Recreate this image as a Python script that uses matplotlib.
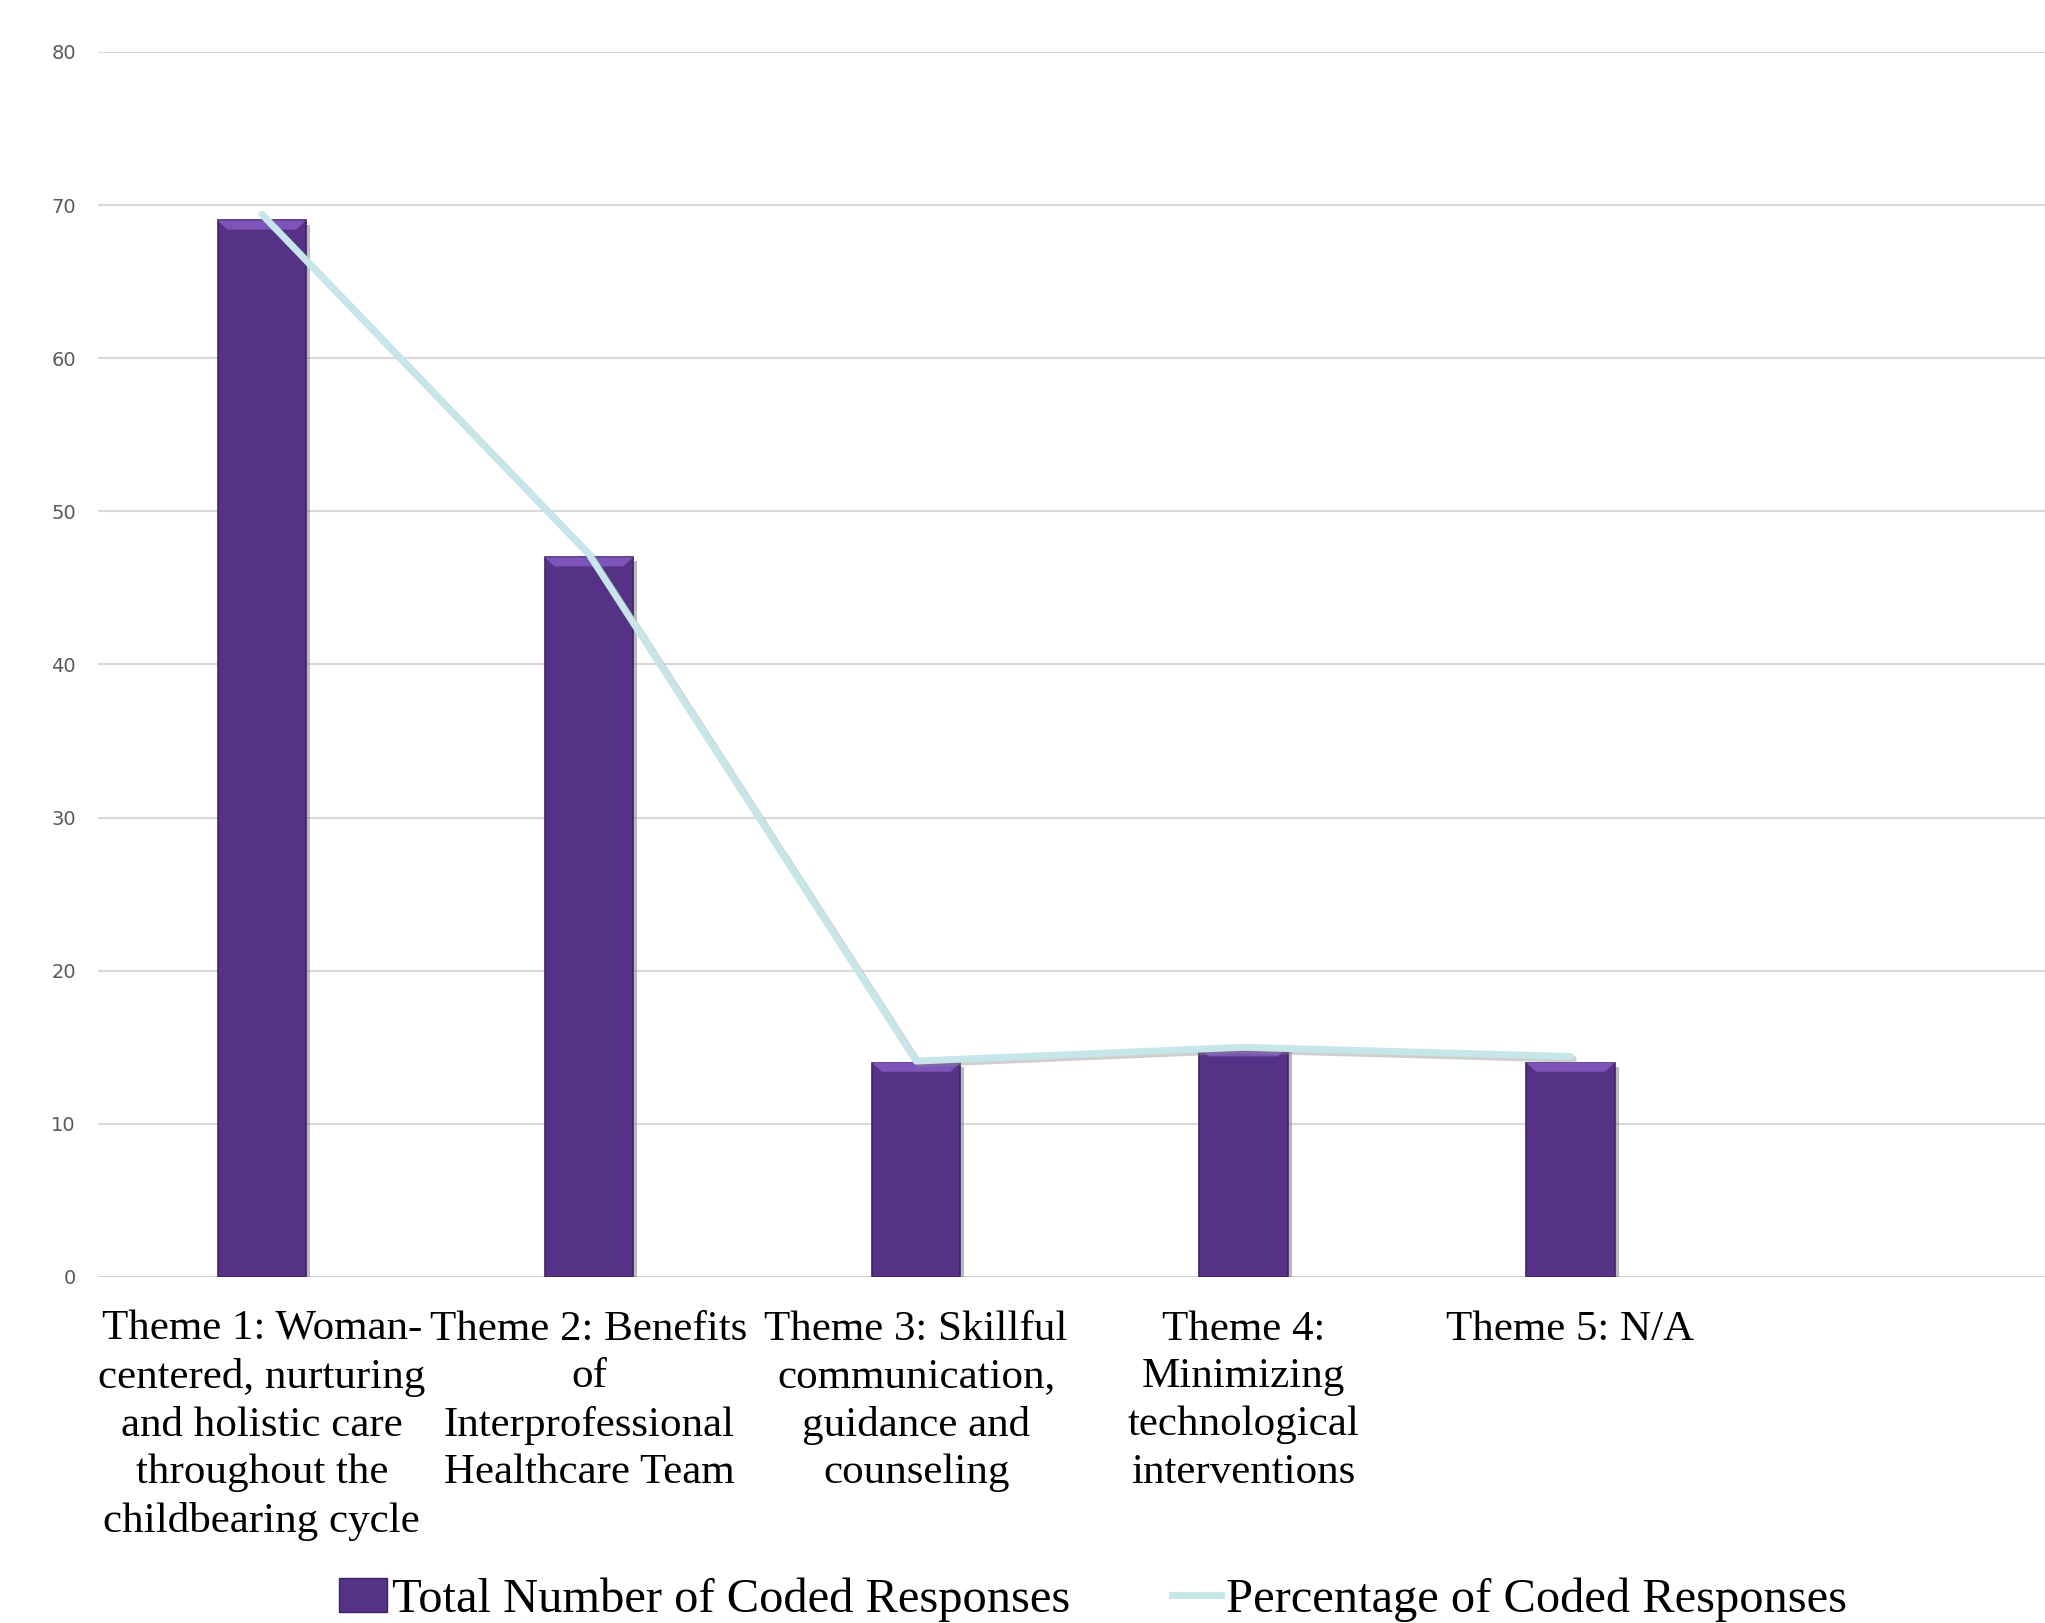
import numpy as np
import matplotlib.pyplot as plt
import matplotlib.patheffects as pe
from matplotlib.patches import Polygon
from matplotlib.lines import Line2D
from matplotlib.patches import Patch

plt.rcParams['figure.dpi'] = 100

themes = [
    "Theme 1: Woman-\ncentered, nurturing\nand holistic care\nthroughout the\nchildbearing cycle",
    "Theme 2: Benefits\nof\nInterprofessional\nHealthcare Team",
    "Theme 3: Skillful\ncommunication,\nguidance and\ncounseling",
    "Theme 4:\nMinimizing\ntechnological\ninterventions",
    "Theme 5: N/A",
    "",
]
total_responses = [69, 47, 14, 15, 14]
pct_responses = [69.4, 47.2, 14.1, 15.0, 14.4]
y_ticks = [0, 10, 20, 30, 40, 50, 60, 70, 80]

bar_color = "#553285"
line_color = "#c6e6e9"

fig = plt.figure(figsize=(20.45, 16.23))
ax = fig.add_axes([0.048, 0.2132, 0.96, 0.7548])

x = np.arange(len(total_responses))
bw = 0.27
bars = ax.bar(x, total_responses, width=bw, color=bar_color, edgecolor="#3f2366",
              linewidth=1.2, zorder=3,
              path_effects=[pe.SimplePatchShadow(offset=(3, -3), shadow_rgbFace="#777777", alpha=0.5),
                            pe.Normal()])

# bevel on top of each bar
for b in bars:
    x0, w, h = b.get_x(), b.get_width(), b.get_height()
    d = 0.6
    top = Polygon([[x0, h], [x0 + w, h], [x0 + w - 0.03, h - d], [x0 + 0.03, h - d]],
                  closed=True, facecolor="#7d55b8", edgecolor="none", zorder=4)
    ax.add_patch(top)

ax.plot(x, pct_responses, color=line_color, linewidth=5, zorder=5, solid_capstyle="round",
        path_effects=[pe.SimpleLineShadow(offset=(2, -2), shadow_color="#888888", alpha=0.4),
                      pe.Normal()])

ax.set_xlim(-0.5, len(themes) - 0.5)
ax.set_ylim(0, 80)
ax.set_yticks(y_ticks)
ax.yaxis.grid(True, color="#d9d9d9", linewidth=1.5, zorder=0)
ax.set_axisbelow(True)
for s in ax.spines.values():
    s.set_visible(False)
ax.tick_params(axis="y", length=0, pad=16, labelsize=14, labelcolor="#595959")
ax.set_xticks(np.arange(len(themes)))
ax.set_xticklabels(themes, fontsize=31, family="Liberation Serif", linespacing=1.31)
ax.tick_params(axis="x", length=0, pad=24)
ax.axhline(0, color="#d0d0d0", linewidth=1.8, zorder=1)

handles = [Patch(facecolor=bar_color, edgecolor="#3f2366"),
           Line2D([0], [0], color=line_color, linewidth=5)]
fig.legend(handles, ["Total Number of Coded Responses", "Percentage of Coded Responses"],
           loc="lower center", bbox_to_anchor=(0.5344, -0.026), ncol=2, frameon=False,
           prop={"family": "Liberation Serif", "size": 34.9}, columnspacing=2.1,
           handlelength=1.0, handletextpad=0.1)

fig.savefig("out.png", dpi=100)
